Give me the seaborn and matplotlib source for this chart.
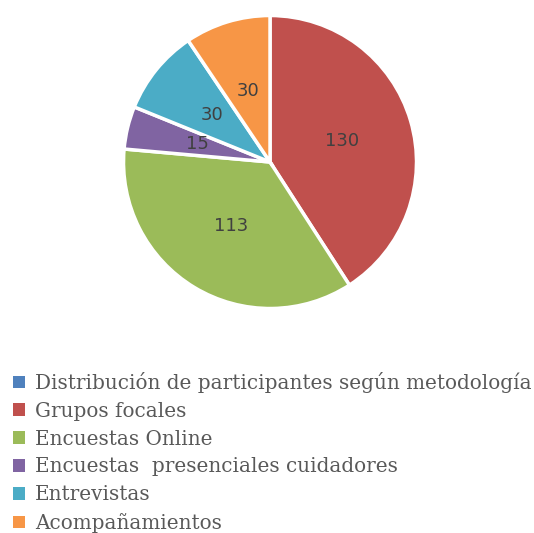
import matplotlib
matplotlib.use("Agg")
import matplotlib.pyplot as plt
import matplotlib.patches as mpatches
import seaborn as sns

categories = ["Distribución de participantes según metodología", "Grupos focales",
              "Encuestas Online", "Encuestas  presenciales cuidadores",
              "Entrevistas", "Acompañamientos"]
values = [0, 130, 113, 15, 30, 30]
colors = ["#4F81BD", "#C0504D", "#9BBB59", "#8064A2", "#4BACC6", "#F79646"]

sns.set_style("white")

fig = plt.figure(figsize=(5.34, 5.33), dpi=100)
ax = fig.add_axes([0.2313, 0.4212, 0.5487, 0.5497])

pie_vals = [v for v in values if v > 0]
pie_cols = [c for v, c in zip(values, colors) if v > 0]
wedges, texts = ax.pie(pie_vals, colors=pie_cols, startangle=90, counterclock=False,
                       labels=[str(v) for v in pie_vals], labeldistance=0.51,
                       wedgeprops=dict(edgecolor="white", linewidth=2.5),
                       textprops=dict(fontsize=13, color="#404040", family="DejaVu Sans"),
                       radius=1.0)
for t in texts:
    t.set_ha("center")
    t.set_va("center")
ax.set_xlim(-1, 1)
ax.set_ylim(-1, 1)
ax.set_aspect("equal")
ax.axis("off")

handles = [mpatches.Patch(facecolor=c, edgecolor="none") for c in colors]
fig.legend(handles, categories, loc="upper left", bbox_to_anchor=(0.024, 0.302),
           frameon=False, handlelength=0.62, handleheight=0.62, handletextpad=0.48,
           labelspacing=0.44, borderaxespad=0, borderpad=0,
           prop=dict(family="DejaVu Serif", size=14.4), labelcolor="#595959")

fig.savefig("out.png", dpi=100, facecolor="white")
